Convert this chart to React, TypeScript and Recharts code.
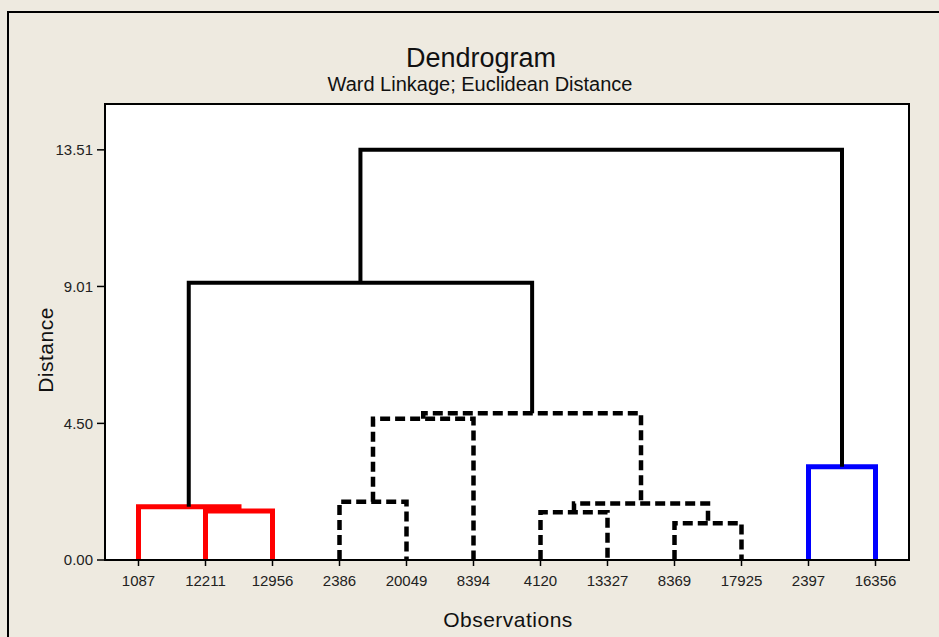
import React from 'react';
import { LineChart, Line, XAxis, YAxis, ReferenceArea } from 'recharts';

// ---- data ----
const leafLabels = ['1087', '12211', '12956', '2386', '20049', '8394', '4120', '13327', '8369', '17925', '2397', '16356'];
// merges: node index = 12 + merge index
const mergeLeft = [1, 0, 3, 14, 6, 8, 16, 15, 13, 10, 20];
const mergeRight = [2, 12, 4, 5, 7, 9, 17, 18, 19, 11, 21];
const mergeHeights = [1.61, 1.75, 1.92, 4.65, 1.57, 1.21, 1.86, 4.83, 9.13, 3.07, 13.51];
const mergeGroups = ['red', 'red', 'dashed', 'dashed', 'dashed', 'dashed', 'dashed', 'dashed', 'black', 'blue', 'black'];
const yTicks = [0, 4.5, 9.01, 13.51];
const yMax = 15.02;

// ---- styles ----
const groupStyle: Record<string, { stroke: string; width: number; dash?: string }> = {
  red: { stroke: '#ff0000', width: 5 },
  blue: { stroke: '#0000ff', width: 5 },
  black: { stroke: '#000000', width: 4 },
  dashed: { stroke: '#000000', width: 4.5, dash: '10 5' },
};

const FONT = '"Liberation Sans", Arial, sans-serif';
const BG = '#EEEAE0';

// build node positions from the tree
const nodeX: number[] = leafLabels.map((_, i) => i);
const nodeH: number[] = leafLabels.map(() => 0);
mergeLeft.forEach((l, i) => {
  const r = mergeRight[i];
  nodeX.push((nodeX[l] + nodeX[r]) / 2);
  nodeH.push(mergeHeights[i]);
});

const links = mergeLeft.map((l, i) => {
  const r = mergeRight[i];
  const h = mergeHeights[i];
  return {
    id: `m${i}`,
    group: mergeGroups[i],
    data: [
      { x: nodeX[l], y: nodeH[l] },
      { x: nodeX[l], y: h },
      { x: nodeX[r], y: h },
      { x: nodeX[r], y: nodeH[r] },
    ],
  };
});

const xTicks = leafLabels.map((_, i) => i);

export default function App() {
  return (
    <div style={{ position: 'absolute', left: 0, top: 0, width: 939, height: 637, background: BG, overflow: 'hidden' }}>
      <div
        style={{
          position: 'absolute',
          left: 7,
          top: 11,
          width: 2000,
          height: 2000,
          borderLeft: '2px solid #000',
          borderTop: '2px solid #000',
        }}
      />
      <div style={{ position: 'absolute', left: 0, top: 0 }}>
        <LineChart width={939} height={637} margin={{ top: 104, right: 30, left: 0, bottom: 0 }}>
          <XAxis
            type="number"
            dataKey="x"
            domain={[-0.5, 11.5]}
            ticks={xTicks}
            tickFormatter={(v: number) => leafLabels[v] ?? ''}
            interval={0}
            height={77}
            tickSize={6}
            tickMargin={9}
            axisLine={{ stroke: '#000', strokeWidth: 2 }}
            tickLine={{ stroke: '#000', strokeWidth: 1.5 }}
            tick={{ fill: '#222', fontSize: 15, fontFamily: FONT }}
            allowDuplicatedCategory={false}
          />
          <YAxis
            type="number"
            domain={[0, yMax]}
            ticks={yTicks}
            tickFormatter={(v: number) => v.toFixed(2)}
            width={105}
            tickSize={8}
            tickMargin={4}
            axisLine={{ stroke: '#000', strokeWidth: 2 }}
            tickLine={{ stroke: '#000', strokeWidth: 1.5 }}
            tick={{ fill: '#222', fontSize: 15, fontFamily: FONT }}
          />
          <ReferenceArea x1={-0.5} x2={11.5} y1={0} y2={yMax} fill="#ffffff" fillOpacity={1} stroke="#000" strokeWidth={2} />
          {links.map((lk) => {
            const st = groupStyle[lk.group];
            return (
              <Line
                key={lk.id}
                data={lk.data}
                dataKey="y"
                type="linear"
                stroke={st.stroke}
                strokeWidth={st.width}
                strokeDasharray={st.dash}
                strokeLinejoin="miter"
                strokeLinecap="butt"
                dot={false}
                activeDot={false}
                isAnimationActive={false}
              />
            );
          })}
        </LineChart>
      </div>
      <svg width={939} height={637} style={{ position: 'absolute', left: 0, top: 0, pointerEvents: 'none' }}>
        <text x={481} y={67} textAnchor="middle" fontFamily={FONT} fontSize={27} fill="#111">
          Dendrogram
        </text>
        <text x={480} y={91} textAnchor="middle" fontFamily={FONT} fontSize={20} fill="#111">
          Ward Linkage; Euclidean Distance
        </text>
        <text x={508} y={627} textAnchor="middle" fontFamily={FONT} fontSize={21} fill="#111" letterSpacing={0.5}>
          Observations
        </text>
        <text
          x={0}
          y={0}
          textAnchor="middle"
          fontFamily={FONT}
          fontSize={21}
          fill="#111"
          letterSpacing={0.5}
          transform="translate(53,350) rotate(-90)"
        >
          Distance
        </text>
      </svg>
    </div>
  );
}
